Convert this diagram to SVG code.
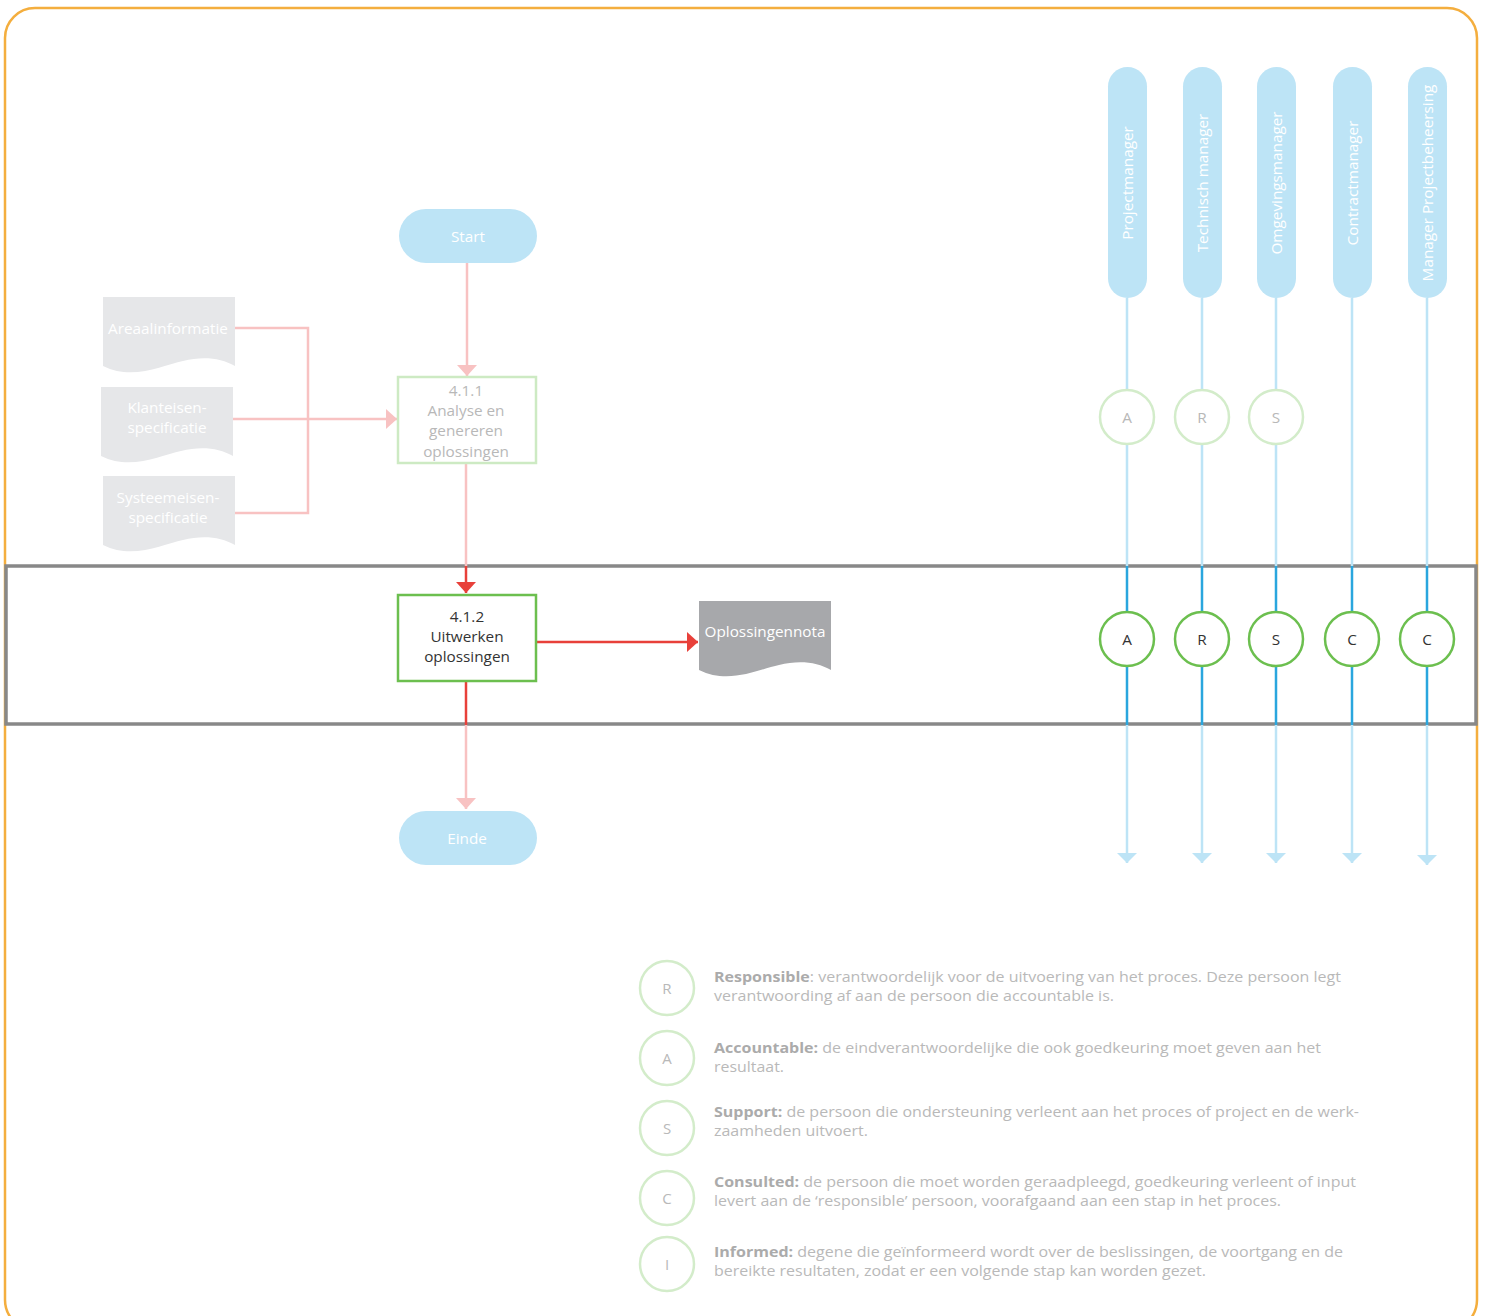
<svg xmlns="http://www.w3.org/2000/svg" xmlns:xlink="http://www.w3.org/1999/xlink" width="1486" height="1316" viewBox="0 0 1486 1316">
<style>
text{font-family:"Open Sans","Noto Sans","Liberation Sans",sans-serif;font-size:15.3px;}
.c{text-anchor:middle;dominant-baseline:central;}
.w{fill:#ffffff;}
.pill{fill:#bde4f6;}
.doc1{fill:#e6e7e9;}
.doc2{fill:#a7a8ab;}
.pink{stroke:#f8c2c2;stroke-width:2.5;fill:none;}
.red{stroke:#e8403a;stroke-width:2.5;fill:none;}
.lb{stroke:#bde4f6;stroke-width:2.5;fill:none;}
.db{stroke:#2aa6de;stroke-width:2.5;fill:none;}
.ring1{fill:#ffffff;stroke:#d3ecca;stroke-width:2.5;}
.ring2{fill:#ffffff;stroke:#6cbf4f;stroke-width:2.5;}
.lt{fill:#b8b8b8;}
.dk{fill:#333333;}
.leg{fill:#b9b9b9;font-size:15px;}
.legb{font-weight:bold;fill:#ababab;}
</style>
<defs>
<path id="doc" d="M0,0 H132 V69 C118,61 100,59 80,64 C60,68 30,84 0,69 Z"/>
<marker id="aPink" viewBox="0 0 11 20" refX="11" refY="10" markerWidth="11" markerHeight="20" markerUnits="userSpaceOnUse" orient="auto"><path d="M0,0 L11,10 L0,20 Z" fill="#f8c2c2"/></marker>
<marker id="aRed" viewBox="0 0 11 20" refX="11" refY="10" markerWidth="11" markerHeight="20" markerUnits="userSpaceOnUse" orient="auto"><path d="M0,0 L11,10 L0,20 Z" fill="#e8403a"/></marker>
<marker id="aBlue" viewBox="0 0 10 20" refX="10" refY="10" markerWidth="10" markerHeight="20" markerUnits="userSpaceOnUse" orient="auto"><path d="M0,0 L10,10 L0,20 Z" fill="#bde4f6"/></marker>
</defs>

<rect id="frame" x="5" y="8" width="1472" height="1322" rx="30" fill="#ffffff" stroke="#f4ae3e" stroke-width="2.5"/>

<rect id="band" x="6" y="566" width="1470" height="158" fill="none" stroke="#888888" stroke-width="3.5"/>

<g id="connectors">
<path class="pink" d="M467,263 V376" marker-end="url(#aPink)"/>
<path class="pink" d="M235,328 H308 V513 H234"/>
<path class="pink" d="M233,419 H397" marker-end="url(#aPink)"/>
<path class="pink" d="M466,464 V566"/>
<path class="red" d="M466,566 V593" marker-end="url(#aRed)"/>
<path class="red" d="M537,642 H698" marker-end="url(#aRed)"/>
<path class="red" d="M466,681 V725"/>
<path class="pink" d="M466,725 V809" marker-end="url(#aPink)"/>
<path class="lb" d="M1127,298 V390 M1127,444 V566"/>
<path class="db" d="M1127,566 V612 M1127,666 V725"/>
<path class="lb" d="M1127,725 V863" marker-end="url(#aBlue)"/>
<path class="lb" d="M1202,298 V390 M1202,444 V566"/>
<path class="db" d="M1202,566 V612 M1202,666 V725"/>
<path class="lb" d="M1202,725 V863" marker-end="url(#aBlue)"/>
<path class="lb" d="M1276,298 V390 M1276,444 V566"/>
<path class="db" d="M1276,566 V612 M1276,666 V725"/>
<path class="lb" d="M1276,725 V863" marker-end="url(#aBlue)"/>
<path class="lb" d="M1352,298 V566"/>
<path class="db" d="M1352,566 V612 M1352,666 V725"/>
<path class="lb" d="M1352,725 V863" marker-end="url(#aBlue)"/>
<path class="lb" d="M1427,298 V566"/>
<path class="db" d="M1427,566 V612 M1427,666 V725"/>
<path class="lb" d="M1427,725 V865" marker-end="url(#aBlue)"/>
</g>

<g id="start"><rect class="pill" x="399" y="209" width="138" height="54" rx="27"/><text class="c w" x="468" y="236">Start</text></g>
<g id="einde"><rect class="pill" x="399" y="811" width="138" height="54" rx="27"/><text class="c w" x="467" y="838">Einde</text></g>

<g id="doc-areaal"><use href="#doc" xlink:href="#doc" class="doc1" x="103" y="297"/><text class="c w" x="168" y="328">Areaalinformatie</text></g>
<g id="doc-klant"><use href="#doc" xlink:href="#doc" class="doc1" x="101" y="387"/><text class="c w" x="167" y="407">Klanteisen-</text><text class="c w" x="167" y="427">specificatie</text></g>
<g id="doc-systeem"><use href="#doc" xlink:href="#doc" class="doc1" x="103" y="476"/><text class="c w" x="168" y="497">Systeemeisen-</text><text class="c w" x="168" y="517">specificatie</text></g>
<g id="doc-nota"><use href="#doc" xlink:href="#doc" class="doc2" x="699" y="601"/><text class="c w" x="765" y="631">Oplossingennota</text></g>

<g id="step-411"><rect x="398" y="377" width="138" height="86" fill="#ffffff" stroke="#cdeac3" stroke-width="2.5"/>
<text class="c lt" x="466" y="390">4.1.1</text><text class="c lt" x="466" y="410">Analyse en</text><text class="c lt" x="466" y="430">genereren</text><text class="c lt" x="466" y="451">oplossingen</text></g>
<g id="step-412"><rect x="398" y="595" width="138" height="86" fill="#ffffff" stroke="#6cbf4f" stroke-width="2.5"/>
<text class="c dk" x="467" y="616">4.1.2</text><text class="c dk" x="467" y="636">Uitwerken</text><text class="c dk" x="467" y="656">oplossingen</text></g>

<g id="role-projectmanager"><rect class="pill" x="1108" y="67" width="39" height="231" rx="19.5"/><text class="c w" transform="translate(1127,183) rotate(-90)">Projectmanager</text></g>
<g id="role-technisch"><rect class="pill" x="1183" y="67" width="39" height="231" rx="19.5"/><text class="c w" transform="translate(1202,183) rotate(-90)">Technisch manager</text></g>
<g id="role-omgeving"><rect class="pill" x="1257" y="67" width="39" height="231" rx="19.5"/><text class="c w" transform="translate(1276,183) rotate(-90)">Omgevingsmanager</text></g>
<g id="role-contract"><rect class="pill" x="1333" y="67" width="39" height="231" rx="19.5"/><text class="c w" transform="translate(1352,183) rotate(-90)">Contractmanager</text></g>
<g id="role-beheersing"><rect class="pill" x="1408" y="67" width="39" height="231" rx="19.5"/><text class="c w" transform="translate(1427,183) rotate(-90)">Manager Projectbeheersing</text></g>

<g id="raci-411">
<circle class="ring1" cx="1127" cy="417" r="27"/><text class="c lt" x="1127" y="417">A</text>
<circle class="ring1" cx="1202" cy="417" r="27"/><text class="c lt" x="1202" y="417">R</text>
<circle class="ring1" cx="1276" cy="417" r="27"/><text class="c lt" x="1276" y="417">S</text>
</g>
<g id="raci-412">
<circle class="ring2" cx="1127" cy="639" r="27"/><text class="c dk" x="1127" y="639">A</text>
<circle class="ring2" cx="1202" cy="639" r="27"/><text class="c dk" x="1202" y="639">R</text>
<circle class="ring2" cx="1276" cy="639" r="27"/><text class="c dk" x="1276" y="639">S</text>
<circle class="ring2" cx="1352" cy="639" r="27"/><text class="c dk" x="1352" y="639">C</text>
<circle class="ring2" cx="1427" cy="639" r="27"/><text class="c dk" x="1427" y="639">C</text>
</g>

<g id="legend">
<circle class="ring1" cx="667" cy="988" r="27"/><text class="c leg" x="667" y="988">R</text>
<text class="leg" x="714" y="982" textLength="627" lengthAdjust="spacingAndGlyphs"><tspan class="legb">Responsible</tspan>: verantwoordelijk voor de uitvoering van het proces. Deze persoon legt</text>
<text class="leg" x="714" y="1001" textLength="400" lengthAdjust="spacingAndGlyphs">verantwoording af aan de persoon die accountable is.</text>

<circle class="ring1" cx="667" cy="1058" r="27"/><text class="c leg" x="667" y="1058">A</text>
<text class="leg" x="714" y="1053" textLength="607" lengthAdjust="spacingAndGlyphs"><tspan class="legb">Accountable:</tspan> de eindverantwoordelijke die ook goedkeuring moet geven aan het</text>
<text class="leg" x="714" y="1072" textLength="70" lengthAdjust="spacingAndGlyphs">resultaat.</text>

<circle class="ring1" cx="667" cy="1128" r="27"/><text class="c leg" x="667" y="1128">S</text>
<text class="leg" x="714" y="1117" textLength="645" lengthAdjust="spacingAndGlyphs"><tspan class="legb">Support:</tspan> de persoon die ondersteuning verleent aan het proces of project en de werk-</text>
<text class="leg" x="714" y="1136" textLength="154" lengthAdjust="spacingAndGlyphs">zaamheden uitvoert.</text>

<circle class="ring1" cx="667" cy="1198" r="27"/><text class="c leg" x="667" y="1198">C</text>
<text class="leg" x="714" y="1187" textLength="642" lengthAdjust="spacingAndGlyphs"><tspan class="legb">Consulted:</tspan> de persoon die moet worden geraadpleegd, goedkeuring verleent of input</text>
<text class="leg" x="714" y="1206" textLength="567" lengthAdjust="spacingAndGlyphs">levert aan de ‘responsible’ persoon, voorafgaand aan een stap in het proces.</text>

<circle class="ring1" cx="667" cy="1264" r="27"/><text class="c leg" x="667" y="1264">I</text>
<text class="leg" x="714" y="1257" textLength="629" lengthAdjust="spacingAndGlyphs"><tspan class="legb">Informed:</tspan> degene die geïnformeerd wordt over de beslissingen, de voortgang en de</text>
<text class="leg" x="714" y="1276" textLength="492" lengthAdjust="spacingAndGlyphs">bereikte resultaten, zodat er een volgende stap kan worden gezet.</text>
</g>
</svg>
